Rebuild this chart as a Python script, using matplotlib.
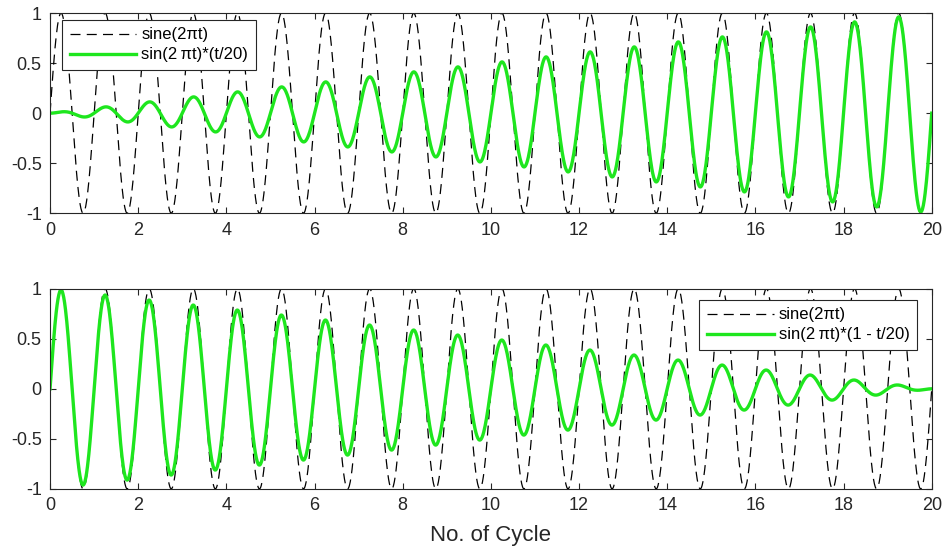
import numpy as np
import matplotlib.pyplot as plt

plt.rcParams['font.family'] = ['Liberation Sans', 'DejaVu Sans']

# time axis in cycles and signal parameters
t_start = 0
t_end = 20
n_samples = 2001
freq = 1.0          # sine(2*pi*t)
ramp_len = 20.0     # t/20 and 1 - t/20

x_ticks = [0, 2, 4, 6, 8, 10, 12, 14, 16, 18, 20]
y_ticks = [-1, -0.5, 0, 0.5, 1]
y_tick_labels = ['-1', '-0.5', '0', '0.5', '1']

labels_top = ['sine(2\u03c0t)', 'sin(2\u2009\u03c0t)*(t/20)']
labels_bottom = ['sine(2\u03c0t)', 'sin(2\u2009\u03c0t)*(1 - t/20)']

t = np.linspace(t_start, t_end, n_samples)
carrier = np.sin(2 * np.pi * freq * t)
rising = carrier * (t / ramp_len)
falling = carrier * (1 - t / ramp_len)

W, H = 944, 548
fig = plt.figure(figsize=(W / 100, H / 100), dpi=100)
ax1 = fig.add_axes([0.053, 0.611, 0.934, 0.365])
ax2 = fig.add_axes([0.053, 0.108, 0.934, 0.365])

green = '#1ee61e'

# legend anchor corners in pixels (from the reference)
panels = [(ax1, rising, labels_top, 'upper left', (62 / W, 1 - 20 / H)),
          (ax2, falling, labels_bottom, 'upper right', (917 / W, 1 - 300 / H))]

for ax, sig, labs, loc, anchor in panels:
    ax.plot(t, carrier, color='black', lw=0.9, linestyle=(0, (8, 5)), label=labs[0])
    ax.plot(t, sig, color=green, lw=2.4, label=labs[1])
    ax.set_xlim(t_start, t_end)
    ax.set_ylim(-1, 1)
    ax.set_xticks(x_ticks)
    ax.set_yticks(y_ticks)
    ax.set_yticklabels(y_tick_labels)
    ax.tick_params(direction='in', length=4, labelsize=13, colors='#262626',
                   top=True, right=True, pad=6)
    for s in ax.spines.values():
        s.set_color('#262626')
        s.set_linewidth(0.8)
    leg = ax.legend(loc=loc, bbox_to_anchor=anchor, bbox_transform=fig.transFigure,
                    fontsize=12, handlelength=4.0, fancybox=False,
                    framealpha=1, edgecolor='#262626', borderpad=0.45,
                    labelspacing=0.3, handletextpad=0.3, borderaxespad=0)
    leg.get_frame().set_linewidth(0.8)

ax2.set_xlabel('No. of Cycle', fontsize=16, color='#262626', labelpad=8)

fig.savefig('out.png', dpi=100)
